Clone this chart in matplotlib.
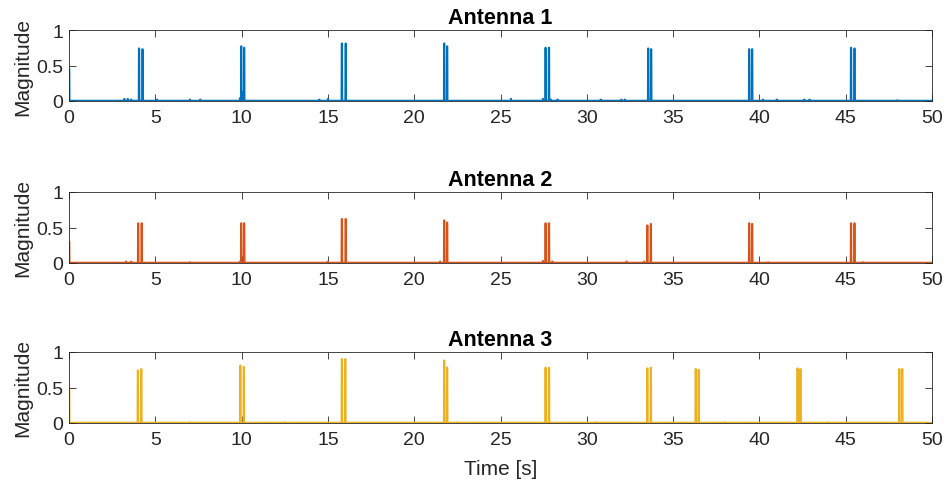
import numpy as np
import matplotlib
matplotlib.use('Agg')
import matplotlib.pyplot as plt

plt.rcParams['font.family'] = ['Liberation Sans', 'DejaVu Sans']

titles = ['Antenna 1', 'Antenna 2', 'Antenna 3']
colors = ['#0072BD', '#D95319', '#EDB120']
start_values = [0.45, 0.3, 0.5]

# pulse pairs: (time of first spike, time of second spike, height 1, height 2)
pulses_1 = [(4.05, 4.25, 0.74, 0.73), (9.97, 10.14, 0.77, 0.75), (15.8, 16.02, 0.81, 0.81),
            (21.73, 21.9, 0.81, 0.77), (27.6, 27.8, 0.75, 0.75), (33.55, 33.72, 0.74, 0.73),
            (39.4, 39.57, 0.73, 0.73), (45.3, 45.5, 0.75, 0.74)]
pulses_2 = [(4.0, 4.2, 0.56, 0.56), (9.97, 10.14, 0.56, 0.56), (15.8, 16.02, 0.62, 0.62),
            (21.73, 21.9, 0.6, 0.57), (27.6, 27.8, 0.56, 0.56), (33.5, 33.7, 0.53, 0.55),
            (39.4, 39.57, 0.56, 0.55), (45.3, 45.5, 0.56, 0.56)]
pulses_3 = [(3.98, 4.18, 0.74, 0.76), (9.92, 10.12, 0.81, 0.79), (15.8, 16.0, 0.9, 0.9),
            (21.73, 21.9, 0.88, 0.78), (27.6, 27.8, 0.78, 0.78), (33.5, 33.7, 0.77, 0.78),
            (36.3, 36.47, 0.76, 0.75), (42.2, 42.37, 0.77, 0.76), (48.1, 48.27, 0.76, 0.76)]

# small bumps on the baseline: (time, height)
bumps_1 = [(3.2, 0.03), (3.4, 0.03), (3.6, 0.02), (5.1, 0.02), (7.0, 0.02), (7.6, 0.02),
           (9.9, 0.04), (10.05, 0.12), (14.5, 0.02), (15.0, 0.03), (25.6, 0.03), (27.45, 0.03),
           (27.9, 0.02), (28.3, 0.02), (30.8, 0.02), (32.0, 0.02), (32.2, 0.02), (40.2, 0.02),
           (41.0, 0.02), (42.6, 0.02), (42.9, 0.02), (48.0, 0.01)]
bumps_2 = [(3.3, 0.02), (3.6, 0.02), (7.0, 0.01), (9.9, 0.02), (15.0, 0.02), (21.5, 0.02),
           (27.45, 0.03), (28.0, 0.02), (32.3, 0.02), (33.3, 0.02), (40.5, 0.01), (46.0, 0.01)]
bumps_3 = [(7.0, 0.01), (12.5, 0.01), (22.5, 0.01), (30.5, 0.01), (38.0, 0.01), (44.0, 0.01)]

dt = 0.01
t = np.arange(0, 50 + dt / 2, dt)


def build(start, pulses, bumps):
    y = np.full(t.shape, 0.004)
    y[:3] = start
    for t1, t2, h1, h2 in pulses:
        for tt, hh in ((t1, h1), (t2, h2)):
            i = int(round(tt / dt))
            y[i:i + 3] = hh
    for tt, hh in bumps:
        i = int(round(tt / dt))
        y[i:i + 2] = hh
    return y


signals = [build(start_values[0], pulses_1, bumps_1),
           build(start_values[1], pulses_2, bumps_2),
           build(start_values[2], pulses_3, bumps_3)]

fig = plt.figure(figsize=(9.46, 4.85), dpi=100)
tops = [31, 193, 353]
for k in range(3):
    ax = fig.add_axes([69 / 946, 1 - (tops[k] + 71) / 485, 863 / 946, 71 / 485])
    ax.plot(t, signals[k], color=colors[k], lw=1.4)
    ax.set_xlim(0, 50)
    ax.set_ylim(0, 1)
    ax.set_xticks(range(0, 51, 5))
    ax.set_yticks([0, 0.5, 1])
    ax.set_yticklabels(['0', '0.5', '1'])
    ax.tick_params(direction='in', labelsize=14, length=5, width=0.6, top=True, right=True,
                   colors='#262626', labelcolor='#262626')
    ax.tick_params(axis='x', pad=6)
    ax.tick_params(axis='y', pad=4)
    for s in ax.spines.values():
        s.set_linewidth(0.6)
        s.set_color('#262626')
    ax.set_ylabel('Magnitude', fontsize=15, color='#262626', labelpad=3)
    ax.set_title(titles[k], fontsize=15.5, fontweight='bold', pad=5)
    if k == 2:
        ax.set_xlabel('Time [s]', fontsize=15, color='#262626', labelpad=8)

fig.savefig('out.png', dpi=100)
